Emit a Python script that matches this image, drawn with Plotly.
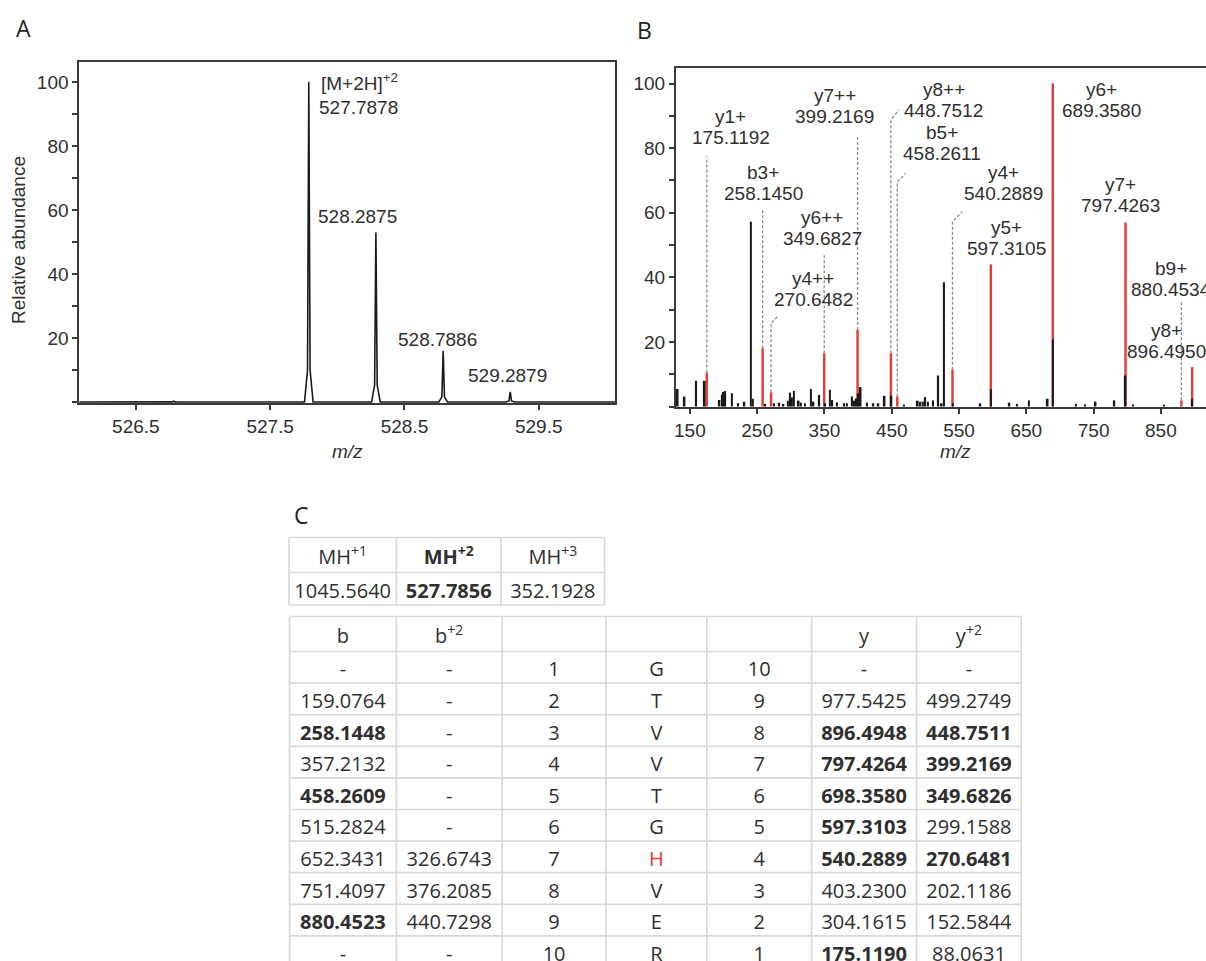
import plotly.graph_objects as go

# ---------------------------------------------------------------- data
# A: precursor isotope cluster of the doubly protonated peptide
ISO_MZ = [526.78, 527.7878, 528.2875, 528.7886, 529.2879, 529.79]
ISO_INT = [0.25, 100.0, 53.0, 16.0, 3.2, 0.2]
PRECURSOR_TAG = "[M+2H]<sup>+2</sup>"

# B: MS/MS spectrum, assigned fragment ions
ION_NAME = ["y1+", "b3+", "y4++", "y6++", "y7++", "y8++", "b5+",
            "y4+", "y5+", "y6+", "y7+", "b9+", "y8+"]
ION_MZ = [175.1192, 258.1450, 270.6482, 349.6827, 399.2169, 448.7512, 458.2611,
          540.2889, 597.3105, 689.3580, 797.4263, 880.4534, 896.4950]
ION_INT = [10.5, 18.0, 4.4, 16.5, 23.7, 16.5, 3.1,
           11.4, 44.0, 100.0, 57.0, 1.9, 12.2]

# B: remaining (unassigned) signal
RAW_MZ = [131.9, 142.1, 159.4, 172.1, 193.9, 197.5, 200.0, 202.6, 212.7, 221.9,
          231.0, 240.5, 243.7, 262.0, 275.2, 282.8, 289.0, 295.5, 299.1, 301.6,
          304.7, 311.8, 314.9, 321.0, 330.1, 333.7, 342.3, 351.0, 358.0, 361.6,
          368.7, 379.4, 383.5, 391.1, 394.6, 397.2, 400.2, 403.8, 413.4, 422.6,
          430.2, 439.4, 449.5, 468.3, 488.6, 492.7, 496.3, 499.8, 503.9, 511.5,
          519.1, 524.2, 527.8, 541.0, 581.6, 597.3, 624.8, 636.0, 653.8, 681.7,
          689.358, 723.9, 737.6, 752.9, 780.8, 797.4, 808.8, 854.5, 896.5]
RAW_INT = [5.4, 3.1, 8.0, 8.0, 2.0, 3.6, 4.5, 4.8, 4.1, 1.0,
           1.5, 57.2, 2.4, 0.8, 1.0, 1.2, 0.8, 1.8, 4.3, 2.8,
           4.8, 1.8, 1.2, 1.0, 5.4, 1.5, 3.6, 1.0, 5.2, 2.0,
           1.3, 1.0, 1.0, 3.1, 1.8, 2.5, 4.1, 6.0, 1.2, 1.0,
           1.0, 3.3, 3.4, 0.5, 1.8, 1.5, 1.5, 2.9, 1.5, 1.9,
           9.6, 1.0, 38.5, 1.0, 1.0, 5.4, 1.2, 0.8, 1.9, 2.4,
           20.8, 0.8, 0.6, 1.5, 1.9, 9.6, 0.5, 0.5, 2.4]

# C: theoretical masses
MH_HEAD = ["MH<sup>+1</sup>", "MH<sup>+2</sup>", "MH<sup>+3</sup>"]
MH_VALUE = ["1045.5640", "527.7856", "352.1928"]
MH_OBSERVED = [False, True, False]

FRAG_HEAD = ["b", "b<sup>+2</sup>", "", "", "", "y", "y<sup>+2</sup>"]
B_ION = ["-", "159.0764", "258.1448", "357.2132", "458.2609", "515.2824",
         "652.3431", "751.4097", "880.4523", "-"]
B2_ION = ["-", "-", "-", "-", "-", "-", "326.6743", "376.2085", "440.7298", "-"]
POS_N = ["1", "2", "3", "4", "5", "6", "7", "8", "9", "10"]
RESIDUE = ["G", "T", "V", "V", "T", "G", "H", "V", "E", "R"]
POS_C = ["10", "9", "8", "7", "6", "5", "4", "3", "2", "1"]
Y_ION = ["-", "977.5425", "896.4948", "797.4264", "698.3580", "597.3103",
         "540.2889", "403.2300", "304.1615", "175.1190"]
Y2_ION = ["-", "499.2749", "448.7511", "399.2169", "349.6826", "299.1588",
          "270.6481", "202.1186", "152.5844", "88.0631"]
OBSERVED = {"258.1448", "458.2609", "880.4523", "896.4948", "797.4264",
            "698.3580", "597.3103", "540.2889", "175.1190", "448.7511",
            "399.2169", "349.6826", "270.6481"}
MODIFIED = "H"

# ---------------------------------------------------------------- style / layout
W, H = 1206, 961
INK = "#2f2f2f"
BLACK = "#1a1a1a"
RED = "#e63b2e"
GRID = "#d9d9d9"
SANS = "Liberation Sans, Arial, sans-serif"
TABLE_FONT = "Open Sans, sans-serif"
FS = 19


def xdom(left, right):
    return [left / W, right / W]


def ydom(top, bottom):
    return [max(0.0, (H - bottom) / H), (H - top) / H]


# plot boxes (px)
A_BOX = dict(l=77.5, r=614, t=62, b=403)
B_BOX = dict(l=675, r=1206, t=67.5, b=407)

# label placement for panel A: (anchor, m/z, level)
A_LABEL_AT = {1: ("left", 527.852, 91.9), 2: ("center", 528.149, 57.9),
              3: ("center", 528.745, 19.6), 4: ("center", 529.265, 8.4)}
A_TAG_AT = (527.867, 100.0)

# label placement for panel B: centre of the m/z line (m/z, level)
B_LABEL_AT = {"y1+": (210.8, 83.3), "b3+": (259.3, 65.8), "y6++": (346.9, 52.1),
              "y4++": (333.5, 33.2), "y7++": (365.1, 89.7), "y8++": (527.3, 91.5),
              "b5+": (524.9, 78.4), "y4+": (616.3, 66.0), "y5+": (620.3, 49.0),
              "y6+": (762.3, 91.6), "y7+": (789.5, 62.1), "b9+": (865.1, 36.3),
              "y8+": (858.7, 17.0)}
# dashed leaders: [top] or [elbow level, end m/z, end level]
LEADER = {"y1+": [77.5], "b3+": [60.8], "y6++": [47.2], "y7++": [84.1], "b9+": [33.0],
          "y4++": [25.8, 280.1, 27.8], "y8++": [88.7, 460.5, 91.8],
          "b5+": [69.6, 470.5, 72.2], "y4+": [57.2, 554.6, 60.3]}

fig = go.Figure()

# ---------------------------------------------------------------- panel A
PEAK_HALF = 0.032
prof_x, prof_y = [526.0], [0.0]
for mz, h in zip(ISO_MZ, ISO_INT):
    prof_x += [mz - PEAK_HALF, mz - PEAK_HALF * 0.3, mz, mz + PEAK_HALF * 0.3, mz + PEAK_HALF]
    prof_y += [0.0, h * 0.1, h, h * 0.1, 0.0]
prof_x.append(530.2)
prof_y.append(0.0)
fig.add_trace(go.Scatter(x=prof_x, y=prof_y, mode="lines", xaxis="x", yaxis="y",
                         line=dict(color=BLACK, width=1.6), hoverinfo="skip"))

# ---------------------------------------------------------------- panel B
fig.add_trace(go.Bar(x=ION_MZ, y=ION_INT, width=3.6, xaxis="x2", yaxis="y2",
                     marker=dict(color=RED, line=dict(width=0)), hoverinfo="skip"))
fig.add_trace(go.Bar(x=RAW_MZ, y=RAW_INT, width=2.6, xaxis="x2", yaxis="y2",
                     marker=dict(color=BLACK, line=dict(width=0)), hoverinfo="skip"))

lx, ly = [], []
for name, mz, h in zip(ION_NAME, ION_MZ, ION_INT):
    spec = LEADER.get(name)
    if not spec:
        continue
    lx += [mz, mz]
    ly += [h, spec[0]]
    if len(spec) == 3:
        lx.append(spec[1])
        ly.append(spec[2])
    lx.append(None)
    ly.append(None)
fig.add_trace(go.Scatter(x=lx, y=ly, mode="lines", xaxis="x2", yaxis="y2",
                         line=dict(color="#8a8a8a", width=1.3, dash="3px,2px"),
                         hoverinfo="skip"))

annotations = []


def note(text, x, y, xref, yref, size=FS, xanchor="center", yanchor="middle",
         yshift=0, color=INK, family=SANS, angle=0):
    annotations.append(dict(text=text, x=x, y=y, xref=xref, yref=yref, showarrow=False,
                            xanchor=xanchor, yanchor=yanchor, yshift=yshift,
                            textangle=angle, font=dict(family=family, size=size, color=color)))


for i, (anchor, lxv, lyv) in A_LABEL_AT.items():
    note(f"{ISO_MZ[i]:.4f}", lxv, lyv, "x", "y", xanchor=anchor)
note(PRECURSOR_TAG, A_TAG_AT[0], A_TAG_AT[1], "x", "y", xanchor="left")

for name, mz in zip(ION_NAME, ION_MZ):
    cx, cy = B_LABEL_AT[name]
    note(f"{mz:.4f}", cx, cy, "x2", "y2")
    note(name, cx, cy, "x2", "y2", yshift=21)

# axis titles and panel letters
note("Relative abundance", 17 / W, 1 - 240 / H, "paper", "paper", angle=-90)
note("<i>m/z</i>", (A_BOX["l"] + A_BOX["r"]) / 2 / W, 1 - 451 / H, "paper", "paper")
note("<i>m/z</i>", 955 / W, 1 - 451 / H, "paper", "paper")
note("A", 22 / W, 1 - 28 / H, "paper", "paper", size=23, family=TABLE_FONT, color="#222")
note("B", 644 / W, 1 - 30 / H, "paper", "paper", size=23, family=TABLE_FONT, color="#222")
note("C", 300 / W, 1 - 515 / H, "paper", "paper", size=23, family=TABLE_FONT, color="#222")

# ---------------------------------------------------------------- panel C tables
PAD = 2
MH_LEFT, MH_TOP = 287.5, 537.5
MH_COLW = [107.5, 105, 103.5]
MH_ROWH = [35, 32.5]
FR_LEFT, FR_TOP = 288, 616.5
FR_COLW = [107, 106, 104, 101, 105, 105, 105]
FR_HEAD_H, FR_ROW_H = 35, 31.6
TEXT_DY = 4.0


def edges(start, sizes):
    out = [start]
    for s in sizes:
        out.append(out[-1] + s)
    return out


shapes = []


def grid(xref, yref, xe, ye):
    for x in xe:
        shapes.append(dict(type="line", xref=xref, yref=yref, x0=x, x1=x, y0=ye[0], y1=ye[-1],
                           line=dict(color=GRID, width=1.7), layer="below"))
    for y in ye:
        shapes.append(dict(type="line", xref=xref, yref=yref, x0=xe[0], x1=xe[-1], y0=y, y1=y,
                           line=dict(color=GRID, width=1.7), layer="below"))


def table_text(xaxis, yaxis, xe, ye, rows, colors):
    tx, ty, tt, tc = [], [], [], []
    for r, row in enumerate(rows):
        for c, txt in enumerate(row):
            if not txt:
                continue
            tx.append((xe[c] + xe[c + 1]) / 2)
            ty.append((ye[r] + ye[r + 1]) / 2 + TEXT_DY)
            tt.append(txt)
            tc.append(colors[r][c])
    fig.add_trace(go.Scatter(x=tx, y=ty, text=tt, mode="text", xaxis=xaxis, yaxis=yaxis,
                             textposition="middle center", cliponaxis=False,
                             textfont=dict(family=TABLE_FONT, size=20, color=tc),
                             hoverinfo="skip"))


# precursor masses
mh_xe = edges(MH_LEFT, MH_COLW)
mh_ye = edges(MH_TOP, MH_ROWH)
grid("x3", "y3", mh_xe, mh_ye)
mh_rows = [[f"<b>{h}</b>" if obs else h for h, obs in zip(MH_HEAD, MH_OBSERVED)],
           [f"<b>{v}</b>" if obs else v for v, obs in zip(MH_VALUE, MH_OBSERVED)]]
table_text("x3", "y3", mh_xe, mh_ye, mh_rows, [[INK] * 3, [INK] * 3])

# fragment ions
columns = [B_ION, B2_ION, POS_N, RESIDUE, POS_C, Y_ION, Y2_ION]
fr_xe = edges(FR_LEFT, FR_COLW)
fr_ye = edges(FR_TOP, [FR_HEAD_H] + [FR_ROW_H] * len(RESIDUE))
grid("x4", "y4", fr_xe, fr_ye)
fr_rows = [FRAG_HEAD]
fr_colors = [[INK] * len(FRAG_HEAD)]
for r in range(len(RESIDUE)):
    row, cols = [], []
    for col in columns:
        v = col[r]
        row.append(f"<b>{v}</b>" if v in OBSERVED else v)
        cols.append(RED if (col is RESIDUE and v == MODIFIED) else INK)
    fr_rows.append(row)
    fr_colors.append(cols)
table_text("x4", "y4", fr_xe, fr_ye, fr_rows, fr_colors)

# ---------------------------------------------------------------- axes
tick_font = dict(family=SANS, size=FS, color=INK)
y_major = [20, 40, 60, 80, 100]
minor_y = dict(tick0=0, dtick=10, ticks="outside", ticklen=5, tickwidth=1.5,
               tickcolor="#3a3a3a", showgrid=False)
common = dict(showgrid=False, zeroline=False, showline=True, linecolor="#3a3a3a",
              linewidth=2, ticks="outside", ticklen=5, tickwidth=1.5,
              tickcolor="#3a3a3a", tickfont=tick_font, fixedrange=True)
hidden = dict(visible=False, showgrid=False, zeroline=False, fixedrange=True)

A_PX = 134.5          # px per m/z unit in panel A
A_Y = 3.2             # px per % in panel A
B_PX = 0.674
B_Y = 3.23

fig.update_layout(
    width=W, height=H, margin=dict(l=0, r=0, t=0, b=0),
    paper_bgcolor="white", plot_bgcolor="rgba(0,0,0,0)",
    showlegend=False, barmode="overlay", font=dict(family=SANS, color=INK),
    xaxis=dict(common, domain=xdom(A_BOX["l"], A_BOX["r"]), anchor="y", mirror=True,
               range=[526.5 - (134.1 - A_BOX["l"]) / A_PX, 526.5 + (A_BOX["r"] - 134.1) / A_PX],
               tickvals=[526.5, 527.5, 528.5, 529.5], ticktext=["526.5", "527.5", "528.5", "529.5"]),
    yaxis=dict(common, domain=ydom(A_BOX["t"], A_BOX["b"]), anchor="x", mirror=True,
               range=[-(A_BOX["b"] - 402) / A_Y, (402 - A_BOX["t"]) / A_Y],
               tickvals=y_major, minor=minor_y),
    xaxis2=dict(common, domain=xdom(B_BOX["l"], B_BOX["r"]), anchor="y2", mirror=True,
                range=[150 - (689 - B_BOX["l"]) / B_PX, 150 + (B_BOX["r"] - 689) / B_PX],
                tickvals=[150, 250, 350, 450, 550, 650, 750, 850]),
    yaxis2=dict(common, domain=ydom(B_BOX["t"], B_BOX["b"]), anchor="x2",
                range=[-(B_BOX["b"] - 406.5) / B_Y, (406.5 - B_BOX["t"]) / B_Y],
                tickvals=y_major, minor=minor_y),
    xaxis3=dict(hidden, domain=xdom(mh_xe[0] - PAD, mh_xe[-1] + PAD), anchor="y3",
                range=[mh_xe[0] - PAD, mh_xe[-1] + PAD]),
    yaxis3=dict(hidden, domain=ydom(mh_ye[0] - PAD, mh_ye[-1] + PAD), anchor="x3",
                range=[mh_ye[-1] + PAD, mh_ye[0] - PAD]),
    xaxis4=dict(hidden, domain=xdom(fr_xe[0] - PAD, fr_xe[-1] + PAD), anchor="y4",
                range=[fr_xe[0] - PAD, fr_xe[-1] + PAD]),
    yaxis4=dict(hidden, domain=ydom(fr_ye[0] - PAD, H), anchor="x4",
                range=[H, fr_ye[0] - PAD]),
    annotations=annotations,
    shapes=shapes,
)

fig.write_html("out.html")
